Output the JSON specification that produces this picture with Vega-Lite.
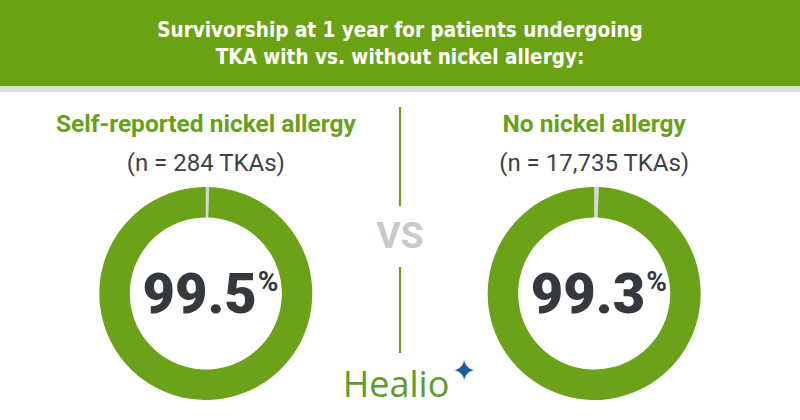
{
  "$schema": "https://vega.github.io/schema/vega-lite/v6.json",
  "padding": 0,
  "background": "#ffffff",
  "spacing": 0,
  "config": {"view": {"stroke": null}, "font": "Roboto"},
  "datasets": {
    "groups": [
      {"group": "Self-reported nickel allergy", "n": 284, "nLabel": "(n = 284 TKAs)", "survival": 99.5},
      {"group": "No nickel allergy", "n": 17735, "nLabel": "(n = 17,735 TKAs)", "survival": 99.3}
    ],
    "slices": [
      {"group": "Self-reported nickel allergy", "outcome": "Not surviving", "pct": 0.5},
      {"group": "Self-reported nickel allergy", "outcome": "Surviving", "pct": 99.5},
      {"group": "No nickel allergy", "outcome": "Not surviving", "pct": 0.7},
      {"group": "No nickel allergy", "outcome": "Surviving", "pct": 99.3}
    ],
    "heading": [
      {"title": "Survivorship at 1 year for patients undergoing\nTKA with vs. without nickel allergy:"}
    ]
  },
  "vconcat": [
    {
      "width": 800,
      "height": 86,
      "data": {"name": "heading"},
      "layer": [
        {"mark": {"type": "rect", "color": "#6ba214"}, "encoding": {}},
        {
          "mark": {"type": "text", "color": "#ffffff", "font": "Liberation Sans Narrow, DejaVu Sans Condensed, sans-serif", "fontWeight": "bold", "fontSize": 20.5, "lineBreak": "\n", "lineHeight": 27, "baseline": "middle", "align": "center", "dy": -12},
          "encoding": {"text": {"field": "title", "type": "nominal"}}
        }
      ]
    },
    {
      "width": 800,
      "height": 6,
      "data": {"values": [{}]},
      "mark": {"type": "rect", "color": "#dedede"},
      "encoding": {}
    },
    {
      "width": 800,
      "height": 328,
      "encoding": {
        "x": {"field": "group", "type": "nominal", "sort": null, "scale": {"type": "point", "padding": 0.53}, "axis": null}
      },
      "layer": [
        {
          "data": {"name": "slices"},
          "transform": [
            {"stack": "pct", "groupby": ["group"], "sort": [{"field": "outcome", "order": "ascending"}], "as": ["start", "end"]}
          ],
          "mark": {"type": "arc", "radius": 106.5, "radius2": 76, "y": 201.5},
          "encoding": {
            "theta": {"field": "start", "type": "quantitative", "scale": {"domain": [0, 100]}},
            "theta2": {"field": "end"},
            "color": {"field": "outcome", "type": "nominal", "scale": {"domain": ["Not surviving", "Surviving"], "range": ["#d4d7d9", "#6ca11a"]}, "legend": null}
          }
        },
        {
          "data": {"name": "groups"},
          "mark": {"type": "text", "y": 40, "baseline": "alphabetic", "align": "center", "fontSize": 24.5, "fontWeight": "bold", "color": "#6a9e1e"},
          "encoding": {"text": {"field": "group", "type": "nominal"}}
        },
        {
          "data": {"name": "groups"},
          "mark": {"type": "text", "y": 79, "baseline": "alphabetic", "align": "center", "fontSize": 24, "color": "#3d4246"},
          "encoding": {"text": {"field": "nLabel", "type": "nominal"}}
        },
        {
          "data": {"name": "groups"},
          "mark": {"type": "text", "y": 221, "dx": 51, "baseline": "alphabetic", "align": "right", "fontSize": 56, "fontWeight": 900, "color": "#33393e"},
          "encoding": {"text": {"field": "survival", "type": "quantitative", "format": ".1f"}}
        },
        {
          "data": {"name": "groups"},
          "mark": {"type": "text", "text": "%", "y": 199, "dx": 52, "baseline": "alphabetic", "align": "left", "fontSize": 28, "fontWeight": "bold", "color": "#33393e"},
          "encoding": {}
        },
        {
          "data": {"values": [{"label": "VS"}]},
          "mark": {"type": "text", "y": 156, "baseline": "alphabetic", "align": "center", "fontSize": 37, "fontWeight": "bold", "color": "#c9c9c9"},
          "encoding": {"x": {"value": {"expr": "width / 2"}}, "text": {"field": "label", "type": "nominal"}}
        },
        {
          "data": {"values": [{}]},
          "mark": {"type": "rule", "color": "#6ca11a", "strokeWidth": 2.2, "y": 15, "y2": 114},
          "encoding": {"x": {"value": {"expr": "width / 2"}}}
        },
        {
          "data": {"values": [{}]},
          "mark": {"type": "rule", "color": "#6ca11a", "strokeWidth": 2.2, "y": 175, "y2": 261},
          "encoding": {"x": {"value": {"expr": "width / 2"}}}
        },
        {
          "data": {"values": [{"brand": "Healio"}]},
          "mark": {"type": "text", "y": 305, "dx": -4, "baseline": "alphabetic", "align": "center", "font": "Open Sans", "fontSize": 36, "color": "#5d9c2b"},
          "encoding": {"x": {"value": {"expr": "width / 2"}}, "text": {"field": "brand", "type": "nominal"}}
        },
        {
          "data": {"values": [{"mark": "✦"}]},
          "mark": {"type": "text", "y": 280, "dx": 64, "baseline": "middle", "align": "center", "font": "DejaVu Sans", "fontSize": 30, "color": "#1d5c9c"},
          "encoding": {"x": {"value": {"expr": "width / 2"}}, "text": {"field": "mark", "type": "nominal"}}
        }
      ]
    }
  ]
}
